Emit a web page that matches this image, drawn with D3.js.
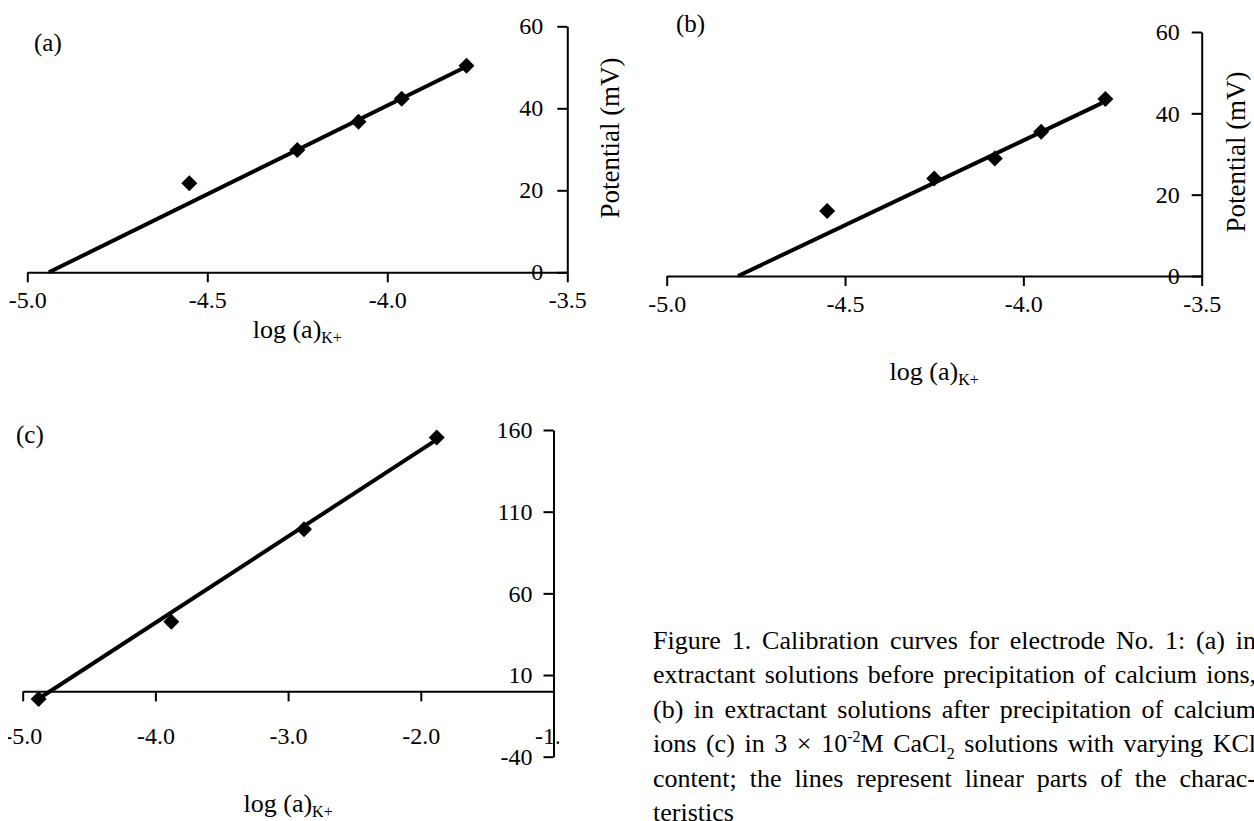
<!DOCTYPE html>
<html><head><meta charset="utf-8">
<script src="https://cdn.jsdelivr.net/npm/d3@7"></script>
<style>html,body{margin:0;padding:0;background:#fff;} svg{display:block;}</style>
</head><body>
<svg id="chart" width="1254" height="821"></svg>
<script>
// ---- data ----
const xTicksAB = [-5.0, -4.5, -4.0, -3.5];
const yTicksAB = [0, 20, 40, 60];
const xTicksC = [-5.0, -4.0, -3.0, -2.0, -1.0];
const yTicksC = [-40, 10, 60, 110, 160];

const logA = [-4.55, -4.25, -4.08, -3.96, -3.78];
const potA = [21.7, 29.8, 36.7, 42.3, 50.4];
const fitLogA = [-4.94, -3.78];
const fitPotA = [0, 50.2];

const logB = [-4.55, -4.25, -4.08, -3.95, -3.77];
const potB = [16.0, 24.0, 28.9, 35.5, 43.5];
const fitLogB = [-4.80, -3.78];
const fitPotB = [0, 42.5];

const logC = [-4.88, -3.88, -2.88, -1.88];
const potC = [-4.7, 42.6, 99.3, 155.4];
const fitLogC = [-4.88, -1.90];
const fitPotC = [-4.5, 153.0];

const panelLabels = ["(a)", "(b)", "(c)"];
const yTitle = "Potential (mV)";
const xTitleMain = "log (a)";
const xTitleSub = "K+";
const captionLines = [
  [{t:"Figure 1. Calibration curves for electrode No. 1: (a) in"}],
  [{t:"extractant solutions before precipitation of calcium ions,"}],
  [{t:"(b) in extractant solutions after precipitation of calcium"}],
  [{t:"ions (c) in 3 \u00d7 10"},{t:"-2",sup:true},{t:"M CaCl"},{t:"2",sub:true},{t:" solutions with varying KCl"}],
  [{t:"content; the lines represent linear parts of the charac-"}],
  [{t:"teristics"}]
];

// ---- drawing ----
const svg = d3.select("#chart");
const FONT = "'Liberation Serif', 'Times New Roman', serif";

svg.append("defs").append("clipPath").attr("id","clipC")
  .append("rect").attr("x",8).attr("y",380).attr("width",551).attr("height",441);

function panel(g, o) {
  const x = d3.scaleLinear().domain(o.xDomain).range(o.xRange);
  const y = d3.scaleLinear().domain(o.yDomain).range(o.yRange);

  const xa = g.append("g").attr("transform", `translate(0,${y(0)})`)
    .call(d3.axisBottom(x).tickValues(o.xTicks).tickFormat(d => d.toFixed(1))
      .tickSize(10).tickSizeOuter(0).tickPadding(o.xPad));
  const ya = g.append("g").attr("transform", `translate(${x(o.xDomain[1])},0)`)
    .call(d3.axisLeft(y).tickValues(o.yTicks).tickFormat(d => String(d))
      .tickSize(10).tickSizeOuter(0).tickPadding(o.yPad));
  [xa, ya].forEach(a => {
    a.attr("font-family", FONT).attr("font-size", 24);
    a.selectAll("path,line").attr("stroke", "#000").attr("stroke-width", 2);
    a.selectAll("text").attr("fill", "#000");
  });

  const line = d3.line().x(d => x(d[0])).y(d => y(d[1]));
  g.append("path").datum(d3.zip(o.fitX, o.fitY)).attr("d", line)
    .attr("fill", "none").attr("stroke", "#000").attr("stroke-width", 4);

  g.selectAll("path.pt").data(d3.zip(o.px, o.py)).join("path").attr("class","pt")
    .attr("d", "M0,-8L8,0L0,8L-8,0Z")
    .attr("transform", d => `translate(${x(d[0])},${y(d[1])})`)
    .attr("fill", "#000");

  g.append("text").attr("x", o.lab[0]).attr("y", o.lab[1]).text(o.label)
    .attr("font-family", FONT).attr("font-size", 25);
  g.append("text").attr("transform", `translate(${o.yt[0]},${o.yt[1]}) rotate(-90)`)
    .attr("text-anchor", "middle").attr("font-family", FONT).attr("font-size", 27)
    .text(yTitle);
  const xt = g.append("text").attr("x", (o.xRange[0] + o.xRange[1]) / 2).attr("y", o.xtY)
    .attr("text-anchor", "middle").attr("font-family", FONT).attr("font-size", 26);
  xt.append("tspan").text(xTitleMain);
  xt.append("tspan").attr("dy", 5).attr("font-size", 16).text(xTitleSub);
}

panel(svg.append("g"), {
  xDomain: [-5, -3.5], xRange: [27.3, 567.3], yDomain: [0, 60], yRange: [272.3, 26.3],
  xTicks: xTicksAB, yTicks: yTicksAB, xPad: 9, yPad: 14,
  px: logA, py: potA, fitX: fitLogA, fitY: fitPotA,
  label: panelLabels[0], lab: [34, 51], yt: [619, 138], xtY: 338
});
panel(svg.append("g"), {
  xDomain: [-5, -3.5], xRange: [666.7, 1201.7], yDomain: [0, 60], yRange: [276, 32],
  xTicks: xTicksAB, yTicks: yTicksAB, xPad: 9, yPad: 12,
  px: logB, py: potB, fitX: fitLogB, fitY: fitPotB,
  label: panelLabels[1], lab: [676, 32], yt: [1245, 152], xtY: 380
});
panel(svg.append("g").attr("clip-path", "url(#clipC)"), {
  xDomain: [-5, -1], xRange: [22.7, 553.5], yDomain: [-40, 160], yRange: [756.7, 430],
  xTicks: xTicksC, yTicks: yTicksC, xPad: 26, yPad: 11,
  px: logC, py: potC, fitX: fitLogC, fitY: fitPotC,
  label: panelLabels[2], lab: [16, 443], yt: [619, 522], xtY: 812
});

// caption (justified lines, cut at the right edge like the source)
const capX = 653, capRight = 1256, capTop = 649, capStep = 34.4;
captionLines.forEach((parts, i) => {
  const t = svg.append("text").attr("x", capX).attr("y", capTop + i * capStep)
    .attr("font-family", FONT).attr("font-size", 26).attr("fill", "#000");
  let shift = 0;
  parts.forEach(p => {
    const s = t.append("tspan").text(p.t);
    if (p.sup) { s.attr("font-size", 16).attr("dy", -10 - shift); shift = -10; }
    else if (p.sub) { s.attr("font-size", 16).attr("dy", 7 - shift); shift = 7; }
    else if (shift !== 0) { s.attr("dy", -shift); shift = 0; }
  });
  if (i < captionLines.length - 1) {
    const natural = t.node().getComputedTextLength();
    const full = parts.map(p => p.t).join("");
    const nSp = (full.match(/ /g) || []).length;
    t.attr("word-spacing", (capRight - capX - natural) / nSp);
  }
});
</script>
</body></html>
